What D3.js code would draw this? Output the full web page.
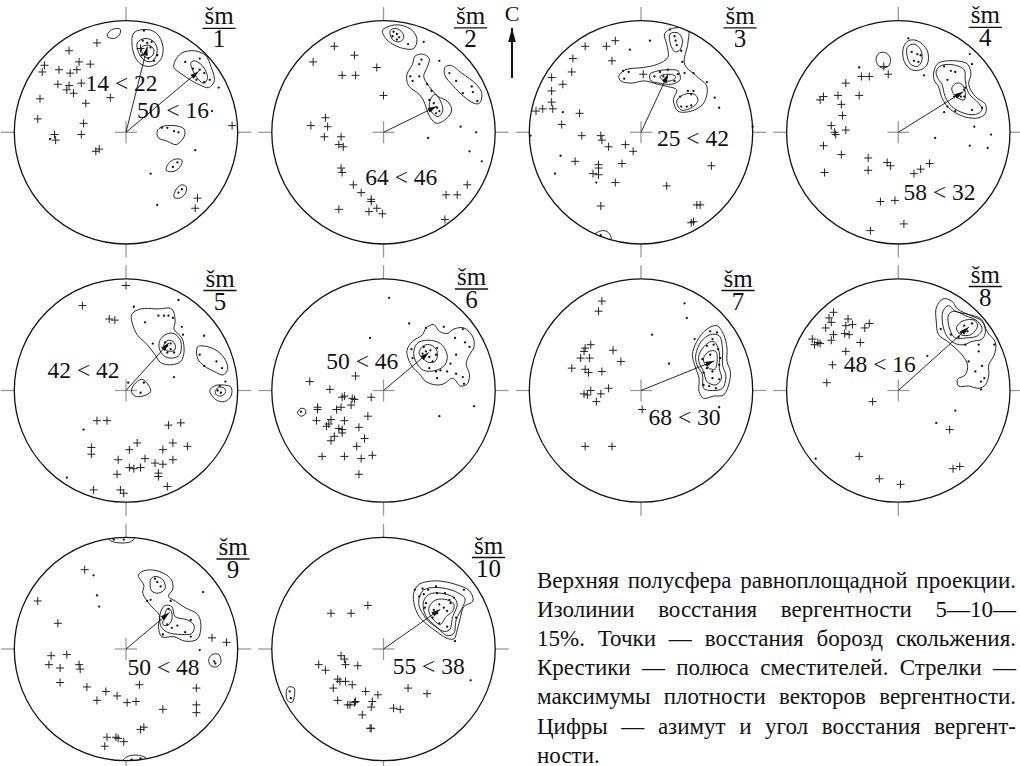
<!DOCTYPE html>
<html>
<head>
<meta charset="utf-8">
<script src="https://cdn.jsdelivr.net/npm/d3@7"></script>
<style>
  body { margin: 0; background: #fff; }
  svg { display: block; }
  text { font-family: "Liberation Serif", "Times New Roman", serif; fill: #111; }
</style>
</head>
<body>
<svg id="fig" width="1020" height="766" font-family="Liberation Serif, Times New Roman, serif"></svg>
<script>
// Net coordinates: x to the east, y to the north, primitive circle radius = 100.

// ---- šm 1 ----
const crosses1 = [[-26,80],[-51,73],[-73,60],[-75,54],[-42,63],[-32,61],[-60,56],[-50,53],[-44,56],[-61,43],[-51,42],[-40,44],[-53,38],[-47,35],[-77,30],[-14,31],[-36,26],[-79,12],[-38,8],[-40,-2],[-64,-2],[-63,-7],[-24,-15],[-27,-17],[95,6],[64,-59],[62,-68],[13,75]];
const dots1 = [[-68,-6],[77,19],[83,40],[53,63],[66,66],[60,57],[66,56],[70,53],[63,47],[75,47],[70,45],[16,91],[15,82],[19,80],[23,81],[22,76],[17,71],[20,66],[25,64],[28,69],[14,69],[32,4],[37,4],[43,1],[47,0],[62,-16],[42,-31],[46,-27],[22,-37],[47,-54],[50,-51],[28,-65]];
const contours1 = [
  [[-17,86],[-14,91],[-8,93],[-5,92],[-6,87],[-11,84]],
  [[7,89],[19,92],[28,88],[33,77],[32,67],[27,61],[19,59],[11,63],[6,74]],
  [[10,80],[17,84],[25,81],[28,73],[24,64],[17,64],[12,70]],
  [[14,76],[20,78],[25,74],[23,68],[18,67],[15,70]],
  [[44,64],[50,71],[61,73],[71,69],[76,59],[79,46],[74,40],[67,42],[59,46],[50,52],[43,58]],
  [[58,62],[61,64],[68,60],[73,49],[70,44],[65,47],[60,55]],
  [[28,1],[32,5],[43,6],[52,3],[52,-4],[45,-11],[37,-8],[29,-5]],
  [[36,-34],[38,-28],[44,-24],[50,-25],[49,-30],[43,-35]],
  [[43,-58],[45,-51],[50,-47],[54,-49],[53,-55],[48,-59]]
];
const vergence1 = [[14,22],[50,16]];   // [azimuth, ascent angle]

// ---- šm 2 ----
const crosses2 = [[-44,77],[-63,63],[-26,69],[-6,58],[-37,51],[-25,51],[0,33],[-52,13],[-65,6],[-50,5],[-53,-4],[-38,-4],[-40,-11],[-36,-13],[-38,-32],[-37,-36],[-27,-47],[-20,-54],[-11,-60],[-11,-62],[-40,-69],[-13,-71],[-6,-68],[-1,-73],[56,-56],[66,-56],[75,-47],[55,-78]];
const dots2 = [[9,90],[12,88],[8,86],[14,85],[12,83],[22,79],[36,81],[50,64],[34,65],[32,61],[24,50],[26,46],[32,50],[39,43],[43,37],[41,29],[45,26],[48,22],[47,17],[50,19],[59,53],[65,46],[71,35],[79,41],[80,36],[84,28],[69,5],[83,0],[40,-5],[77,-17],[88,-26]];
const contours2 = [
  [[-1,91],[5,95],[15,96],[26,91],[30,83],[27,75],[18,75],[8,79],[2,84]],
  [[6,91],[11,93],[17,89],[18,84],[14,81],[8,83]],
  [[21,52],[26,61],[28,68],[35,70],[41,66],[39,58],[36,50],[41,41],[49,32],[57,28],[61,20],[57,13],[48,8],[42,13],[36,28],[32,34],[23,41],[21,46]],
  [[42,29],[46,34],[51,28],[53,19],[49,14],[44,17],[41,23]],
  [[55,58],[60,60],[70,53],[83,43],[88,35],[86,26],[81,26],[72,32],[62,42],[55,51]]
];
const vergence2 = [[64,46]];

// ---- šm 3 ----
const crosses3 = [[-50,77],[-31,77],[-23,82],[-61,66],[-26,64],[-62,54],[-80,49],[-70,43],[-80,37],[-80,27],[-79,21],[-88,21],[-94,19],[-55,17],[-71,7],[-53,-3],[-36,-3],[-35,-7],[-29,-13],[-14,-11],[-7,-17],[-59,-26],[-38,-29],[-38,-32],[-43,-37],[-38,-38],[-17,-28],[-23,-45],[-36,-66],[23,-48],[63,-30],[50,-65],[53,-65],[45,-81],[47,-80],[2,52]];
const dots3 = [[8,82],[-10,74],[26,92],[30,86],[31,82],[32,78],[36,73],[37,63],[-16,55],[-11,54],[-15,48],[12,50],[20,50],[23,49],[30,46],[33,52],[39,53],[47,53],[24,56],[17,54],[42,37],[47,37],[35,32],[45,34],[36,23],[41,23],[45,24],[59,45],[66,31],[70,22],[-70,18],[-72,-21],[-77,-37],[-40,-45],[-99,-3],[100,5],[-36,-92]];
const contours3 = [
  [[-20,50],[-14,56],[2,58],[15,61],[24,67],[23,79],[21,88],[28,93],[42,92],[42,80],[39,61],[50,50],[59,41],[56,26],[45,19],[33,19],[29,29],[32,38],[24,41],[15,43],[3,46],[-9,44],[-18,46]],
  [[26,88],[33,89],[37,83],[35,74],[31,72],[27,77]],
  [[8,52],[15,55],[26,56],[33,55],[35,47],[27,43],[17,44],[9,46]],
  [[17,50],[24,52],[31,50],[29,47],[21,46]],
  [[32,28],[39,34],[48,34],[51,29],[47,23],[36,20]],
  [[-42,-92],[-38,-89],[-33,-88],[-28,-91],[-27,-97],[-35,-99],[-42,-96]]
];
const vergence3 = [[25,42]];

// ---- šm 4 ----
const crosses4 = [[-33,50],[-26,50],[-9,52],[-47,44],[-70,29],[-67,32],[-54,33],[-35,33],[-51,25],[-50,15],[-60,6],[-57,0],[-56,-2],[-47,2],[-67,-12],[-51,-20],[-66,-36],[-27,-23],[-27,-34],[-10,-27],[-7,-30],[14,-37],[20,-33],[28,-28],[-16,-62],[-3,-61],[5,-82],[-25,-88],[-13,59]];
const dots4 = [[9,84],[12,72],[17,70],[14,64],[18,63],[20,69],[23,51],[-35,58],[41,59],[47,55],[51,54],[44,47],[59,38],[56,32],[59,32],[50,32],[44,23],[51,19],[66,20],[75,22],[60,40],[41,18],[66,61],[64,70],[68,5],[33,-5],[83,-2],[64,-12],[80,-14]];
const contours4 = [
  [[-20,65],[-17,71],[-11,71],[-7,66],[-9,59],[-16,58]],
  [[5,77],[9,82],[17,82],[26,73],[26,61],[20,56],[12,56],[6,62],[4,70]],
  [[8,76],[14,79],[20,74],[21,64],[17,59],[11,61],[8,68]],
  [[32,55],[36,62],[51,64],[62,61],[65,52],[63,43],[69,32],[78,25],[78,17],[72,13],[63,13],[54,16],[45,22],[39,31],[36,41],[32,47]],
  [[34,55],[39,60],[51,60],[59,56],[60,46],[63,35],[72,26],[75,20],[69,16],[59,17],[48,23],[42,32],[39,43],[35,49]],
  [[48,40],[52,44],[57,43],[60,35],[59,29],[53,31],[49,35]]
];
const vergence4 = [[58,32]];

// ---- šm 5 ----
const crosses5 = [[0,94],[-39,76],[-15,64],[-10,63],[-26,-27],[-17,-27],[38,-31],[49,-29],[-31,-51],[-31,-57],[3,-53],[10,-47],[33,-53],[42,-47],[55,-50],[-7,-62],[17,-61],[26,-65],[33,-66],[42,-62],[3,-69],[7,-70],[13,-69],[-8,-75],[29,-74],[29,-77],[-29,-89],[-5,-89],[-2,-92],[37,-86]];
const dots5 = [[7,75],[47,81],[29,67],[34,67],[38,67],[42,65],[17,61],[50,57],[51,50],[70,49],[24,42],[35,43],[37,40],[40,42],[40,37],[43,34],[37,34],[66,32],[70,22],[81,26],[86,20],[43,12],[2,7],[16,7],[13,-2],[82,0],[85,-2],[84,4],[89,8],[-38,-35],[-53,-78]];
const contours5 = [
  [[5,68],[13,73],[28,73],[41,73],[44,62],[43,55],[50,47],[52,35],[49,26],[40,23],[31,25],[26,32],[19,41],[10,50],[6,59]],
  [[30,44],[35,50],[43,51],[49,44],[48,32],[41,29],[34,31],[30,37]],
  [[34,41],[38,45],[43,43],[44,37],[40,35],[35,37]],
  [[64,39],[68,40],[79,37],[88,29],[91,19],[87,14],[79,17],[70,22],[64,29]],
  [[75,0],[79,4],[86,5],[94,3],[94,-5],[88,-10],[80,-8]],
  [[80,-1],[83,3],[88,2],[89,-2],[85,-5],[81,-4]],
  [[5,-1],[7,5],[14,10],[20,5],[22,-1],[15,-5],[8,-5]]
];
const vergence5 = [[42,42]];

// ---- šm 6 ----
const crosses6 = [[-66,8],[-25,13],[-48,1],[-11,-6],[-37,-6],[-35,-5],[-28,-7],[-26,-8],[-59,-15],[-59,-17],[-42,-17],[-38,-15],[-29,-13],[-14,-23],[-60,-27],[-47,-26],[-35,-27],[-51,-32],[-49,-30],[-40,-34],[-37,-35],[-37,-38],[-44,-41],[-47,-45],[-22,-33],[-17,-43],[-24,-50],[-55,-59],[-35,-59],[-20,-61],[-10,-58],[-22,-75]];
const dots6 = [[5,83],[23,60],[-12,47],[38,56],[54,57],[71,55],[64,47],[73,43],[77,39],[36,39],[38,35],[42,36],[35,33],[41,30],[47,32],[44,26],[48,38],[25,37],[26,29],[60,24],[65,32],[41,20],[47,17],[51,18],[57,17],[65,15],[71,12],[72,6],[48,11],[81,-14],[50,-23],[-74,-19]];
const contours6 = [
  [[21,36],[26,44],[35,50],[38,56],[45,59],[50,53],[57,51],[63,55],[72,56],[80,48],[81,39],[77,32],[74,24],[77,14],[75,6],[69,4],[62,11],[54,6],[47,5],[38,8],[32,15],[26,21],[22,29]],
  [[27,33],[30,42],[39,45],[51,42],[57,32],[55,23],[47,18],[36,18],[30,24]],
  [[33,37],[38,41],[44,40],[48,35],[47,27],[41,25],[35,29],[32,33]],
  [[-77,-20],[-74,-16],[-70,-17],[-70,-21],[-74,-23]]
];
const vergence6 = [[50,46]];

// ---- šm 7 ----
const crosses7 = [[-35,80],[-38,71],[-50,38],[-45,41],[-51,35],[-54,29],[-46,29],[-25,36],[-18,26],[-62,20],[-50,19],[-47,16],[-35,17],[-51,-3],[-48,-4],[-45,0],[-36,-3],[-29,2],[-40,-10],[1,-17],[-50,-50],[-26,-50]];
const dots7 = [[39,78],[41,65],[10,50],[48,46],[25,24],[70,-15],[62,53],[68,52],[64,46],[59,40],[65,41],[69,37],[71,29],[62,32],[55,28],[59,20],[64,17],[56,16],[64,11],[70,10],[56,5],[61,4],[67,2],[70,23]];
const contours7 = [
  [[46,32],[50,44],[59,55],[68,58],[74,50],[77,38],[77,26],[80,17],[79,7],[74,-4],[65,-5],[56,-7],[52,-1],[52,11],[49,20]],
  [[49,32],[54,44],[62,50],[70,49],[73,37],[73,23],[76,13],[73,2],[64,0],[56,2],[55,14],[50,23]],
  [[52,32],[58,41],[65,44],[70,35],[70,20],[72,11],[67,5],[59,8],[56,17],[52,25]],
  [[56,29],[61,35],[67,35],[68,25],[66,19],[61,20],[57,24]]
];
const vergence7 = [[68,30]];

// ---- šm 8 ----
const crosses8 = [[-58,70],[-62,65],[-60,61],[-65,56],[-58,50],[-60,45],[-72,43],[-75,41],[-77,46],[-70,42],[-45,64],[-47,58],[-41,59],[-48,51],[-44,50],[-47,35],[-34,43],[-30,56],[-26,60],[-59,23],[-64,7],[-23,-10],[-35,-59],[-17,-79],[2,-84],[46,-35],[49,-70],[55,-68]];
const dots8 = [[26,31],[51,-18],[34,-29],[-74,-61],[59,58],[62,53],[66,60],[56,52],[38,55],[47,50],[54,48],[60,41],[72,41],[86,41],[72,35],[63,26],[75,22],[69,17],[74,8],[77,11],[74,1]];
const contours8 = [
  [[34,74],[40,82],[48,80],[53,73],[65,67],[75,62],[80,52],[87,43],[86,32],[81,23],[81,14],[78,5],[72,2],[63,4],[54,4],[53,10],[60,14],[62,23],[57,32],[51,38],[44,44],[36,50],[34,62]],
  [[40,71],[45,76],[51,71],[63,68],[74,64],[78,53],[75,46],[66,44],[59,41],[51,42],[44,48],[40,58]],
  [[45,68],[50,71],[60,67],[71,62],[75,55],[71,49],[60,47],[51,47],[46,55]],
  [[52,56],[57,62],[68,63],[71,58],[65,50],[56,50]]
];
const vergence8 = [[48,16]];

// ---- šm 9 ----
const crosses9 = [[-37,71],[-79,43],[-61,23],[-67,-6],[-69,-14],[-59,-17],[-53,-5],[-42,-14],[-41,-18],[-59,-30],[-35,-34],[-18,-38],[-8,-42],[-26,-46],[1,-48],[9,-47],[12,-32],[33,-54],[63,-35],[63,-50],[63,-57],[77,10],[90,6],[13,-72],[16,-70],[-17,-79],[-9,-79],[-7,-80],[-2,-83],[-19,-87]];
const dots9 = [[-29,66],[-26,48],[-24,38],[69,51],[26,63],[31,56],[28,60],[19,43],[22,44],[40,43],[38,36],[34,29],[37,22],[41,19],[46,21],[58,26],[53,15],[58,11],[33,13],[66,-1],[79,-11],[80,-13],[-11,98],[-2,98],[5,-99],[13,-98]];
const contours9 = [
  [[11,66],[16,70],[28,70],[40,63],[42,54],[38,47],[44,43],[53,37],[64,31],[67,22],[64,9],[53,7],[43,11],[32,11],[29,20],[30,30],[22,39],[15,50],[16,57]],
  [[22,62],[26,65],[33,62],[35,54],[29,50],[23,52]],
  [[31,33],[35,39],[41,38],[44,29],[55,26],[61,21],[59,14],[50,13],[37,15],[31,21]],
  [[34,28],[37,36],[40,35],[41,26],[37,21],[33,22]],
  [[74,-10],[77,-5],[83,-5],[85,-12],[81,-16],[76,-15]],
  [[-16,100],[-14,97],[-6,95],[4,96],[8,100],[4,104],[-6,105],[-14,104]],
  [[-3,-100],[2,-96],[10,-95],[17,-97],[20,-100],[15,-104],[5,-105],[-2,-104]]
];
const vergence9 = [[50,48]];

// ---- šm 10 ----
const crosses10 = [[-47,32],[-29,32],[-14,39],[-38,-6],[-35,-9],[-34,-14],[-58,-14],[-52,-19],[-23,-15],[-41,-27],[-39,-29],[-34,-29],[-28,-32],[-45,-35],[-16,-38],[-5,-41],[22,-35],[39,-40],[-41,-46],[-32,-50],[-30,-50],[-25,-47],[-26,-48],[-10,-47],[-11,-52],[9,-53],[15,-54],[-19,-59],[-11,-71],[-12,-71]];
const dots10 = [[78,-28],[-84,-38],[-83,-44],[28,53],[35,54],[32,47],[36,49],[40,53],[47,56],[48,50],[55,50],[59,44],[63,46],[72,53],[38,41],[37,37],[45,35],[50,40],[54,37],[57,34],[60,41],[65,28],[44,28],[50,23],[57,20],[64,7],[48,32]];
const contours10 = [
  [[27,50],[32,58],[47,61],[64,58],[77,52],[80,43],[72,38],[69,29],[66,17],[63,9],[56,10],[47,16],[39,22],[32,29],[28,38]],
  [[32,46],[36,53],[48,55],[63,52],[73,45],[71,38],[65,26],[63,14],[57,12],[48,19],[40,25],[35,32],[32,38]],
  [[36,43],[41,49],[51,50],[63,46],[66,40],[62,29],[59,17],[53,16],[45,22],[39,28],[36,35]],
  [[41,38],[47,44],[57,44],[63,40],[62,34],[56,29],[51,22],[45,26],[41,32]],
  [[-87,-38],[-85,-34],[-80,-35],[-80,-43],[-82,-48],[-86,-46]]
];
const vergence10 = [[55,38]];

const siteNumbers = [1,2,3,4,5,6,7,8,9,10];

const legendLines = [
  "Верхняя полусфера равноплощадной проекции.",
  "Изолинии восстания вергентности 5—10—",
  "15%. Точки — восстания борозд скольжения.",
  "Крестики — полюса сместителей. Стрелки —",
  "максимумы плотности векторов вергентности.",
  "Цифры — азимут и угол восстания вергент-",
  "ности."
];

// ---- layout ----
const R = 111.7;
const colX = [126, 383.5, 641, 898.3];
const rowY = [132.3, 390.5, 649];
// title ("šm" baseline) offset from the net centre, px
const titleOffset = [[93,-108],[87,-108.5],[99,-108.5],[87,-109],[94,-104],[88,-105.5],[97,-104],[87,-108],[107,-94],[105,-95.5]];
// vergence label anchor (text centre x, baseline y) in net units
const labelAt = [[[-4,37],[42,12.6]],[[16,-47]],[[46.5,-12]],[[37,-61]],[[-38,11]],[[-19,19.5]],[[39,-31]],[[-16.5,17]],[[33.6,-23]],[[40.5,-22.5]]];

const nets = siteNumbers.map((num, i) => ({
  num,
  crosses: [crosses1,crosses2,crosses3,crosses4,crosses5,crosses6,crosses7,crosses8,crosses9,crosses10][i],
  dots: [dots1,dots2,dots3,dots4,dots5,dots6,dots7,dots8,dots9,dots10][i],
  contours: [contours1,contours2,contours3,contours4,contours5,contours6,contours7,contours8,contours9,contours10][i],
  vergence: [vergence1,vergence2,vergence3,vergence4,vergence5,vergence6,vergence7,vergence8,vergence9,vergence10][i]
}));

const svg = d3.select("#fig");
const defs = svg.append("defs");
defs.append("marker")
  .attr("id", "head")
  .attr("viewBox", "-9 -3 10 6")
  .attr("refX", 0).attr("refY", 0)
  .attr("markerWidth", 10).attr("markerHeight", 6)
  .attr("markerUnits", "userSpaceOnUse")
  .attr("orient", "auto")
  .append("path").attr("d", "M0,0L-9,-2.6L-9,2.6Z").attr("fill", "#111");
defs.append("marker")
  .attr("id", "headN")
  .attr("viewBox", "-14 -4.5 15 9")
  .attr("refX", 0).attr("refY", 0)
  .attr("markerWidth", 15).attr("markerHeight", 9)
  .attr("markerUnits", "userSpaceOnUse")
  .attr("orient", "auto")
  .append("path").attr("d", "M0,0L-14,-3.8L-14,3.8Z").attr("fill", "#111");

const tickColor = "#9a9a9a";

// equal-area (Lambert / Schmidt) radius for an ascent angle, net units
const eqArea = pl => 100 * Math.SQRT2 * Math.sin((90 - pl) / 2 * Math.PI / 180);

nets.forEach((net, i) => {
  const cx = colX[i % 4], cy = rowY[Math.floor(i / 4)];
  const x = d3.scaleLinear().domain([-100, 100]).range([cx - R, cx + R]);
  const y = d3.scaleLinear().domain([-100, 100]).range([cy + R, cy - R]);
  const g = svg.append("g");

  defs.append("clipPath").attr("id", "clip" + i)
    .append("circle").attr("cx", x(0)).attr("cy", y(0)).attr("r", R);

  // outer ticks N, E, S, W and centre cross
  const tk = 13.5, cc = 11;
  const ticks = [
    [x(0), y(100), x(0), y(100) - tk],
    [x(0), y(-100), x(0), y(-100) + tk],
    [x(100), y(0), x(100) + tk, y(0)],
    [x(-100), y(0), x(-100) - tk, y(0)],
    [x(0) - cc, y(0), x(0) + cc, y(0)],
    [x(0), y(0) - cc, x(0), y(0) + cc]
  ];
  g.selectAll("line.tick").data(ticks).join("line")
    .attr("x1", d => d[0]).attr("y1", d => d[1]).attr("x2", d => d[2]).attr("y2", d => d[3])
    .attr("stroke", tickColor).attr("stroke-width", 1.3);

  // primitive circle
  g.append("circle").attr("cx", x(0)).attr("cy", y(0)).attr("r", R)
    .attr("fill", "none").attr("stroke", "#111").attr("stroke-width", 1.3);

  // density isolines
  const line = d3.line().x(d => x(d[0])).y(d => y(d[1])).curve(d3.curveCatmullRomClosed.alpha(0.5));
  g.append("g").attr("clip-path", `url(#clip${i})`)
    .selectAll("path").data(net.contours).join("path")
    .attr("d", line).attr("fill", "none").attr("stroke", "#111").attr("stroke-width", 0.9);

  // fault poles
  const cs = 4;
  g.append("g").selectAll("path").data(net.crosses).join("path")
    .attr("d", d => `M${x(d[0]) - cs},${y(d[1])}H${x(d[0]) + cs}M${x(d[0])},${y(d[1]) - cs}V${y(d[1]) + cs}`)
    .attr("stroke", "#222").attr("stroke-width", 1);

  // slickenside ascents
  g.append("g").selectAll("circle").data(net.dots).join("circle")
    .attr("cx", d => x(d[0])).attr("cy", d => y(d[1])).attr("r", 1.15).attr("fill", "#111");

  // vergence maxima arrows and labels
  net.vergence.forEach((v, k) => {
    const [az, pl] = v;
    const r = eqArea(pl), a = az * Math.PI / 180;
    g.append("line")
      .attr("x1", x(0)).attr("y1", y(0))
      .attr("x2", x(r * Math.sin(a))).attr("y2", y(r * Math.cos(a)))
      .attr("stroke", "#111").attr("stroke-width", 0.9)
      .attr("marker-end", "url(#head)");
    const [lx, ly] = labelAt[i][k];
    g.append("text")
      .attr("x", x(lx)).attr("y", y(ly))
      .attr("text-anchor", "middle").attr("font-size", 23.5)
      .text(`${az} < ${pl}`);
  });

  // site title
  const [tx, ty] = titleOffset[i];
  const title = g.append("text").attr("x", cx + tx).attr("y", cy + ty)
    .attr("text-anchor", "middle").attr("font-size", 25).text("šm");
  const w = title.node().getComputedTextLength();
  g.append("line")
    .attr("x1", cx + tx - w / 2 - 2).attr("x2", cx + tx + w / 2 + 2)
    .attr("y1", cy + ty + 4).attr("y2", cy + ty + 4)
    .attr("stroke", "#111").attr("stroke-width", 1.3);
  g.append("text").attr("x", cx + tx).attr("y", cy + ty + 23)
    .attr("text-anchor", "middle").attr("font-size", 25).text(net.num);
});

// north arrow
const north = svg.append("g");
north.append("text").attr("x", 512).attr("y", 21).attr("text-anchor", "middle")
  .attr("font-size", 22).text("С");
north.append("line").attr("x1", 512).attr("y1", 78).attr("x2", 512).attr("y2", 28)
  .attr("stroke", "#111").attr("stroke-width", 2)
  .attr("marker-end", "url(#headN)");

// caption, justified
const lx0 = 537, lx1 = 1016, ly0 = 588, lstep = 29.1;
legendLines.forEach((ln, i) => {
  const t = svg.append("text").attr("y", ly0 + i * lstep).attr("font-size", 23);
  const words = ln.split(" ");
  const spans = words.map(wd => t.append("tspan").text(wd));
  const widths = spans.map(s => s.node().getComputedTextLength());
  const total = d3.sum(widths);
  const last = i === legendLines.length - 1;
  const gap = last || words.length < 2 ? 23 * 0.25 : (lx1 - lx0 - total) / (words.length - 1);
  let px = lx0;
  spans.forEach((s, j) => { s.attr("x", px); px += widths[j] + gap; });
});
</script>
</body>
</html>
